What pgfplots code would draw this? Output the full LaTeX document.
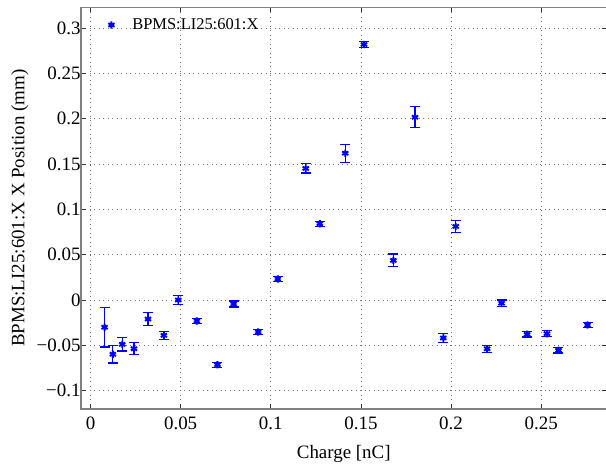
\documentclass[border=0pt]{standalone}
\usepackage{pgfplots}
\pgfplotsset{compat=1.18}
\usepackage{fontspec}
\setmainfont{Liberation Serif}
\pgfplotsset{mylegimg/.style={legend image code/.code={\path (0cm,0cm) (0.96cm,0cm); \draw[##1] plot coordinates {(0.3cm,0cm)};}}}
\begin{document}
\begin{tikzpicture}[x=1bp,y=1bp]
\begin{axis}[
  name=ax,
  scale only axis,
  width=525.5bp, height=401.5bp,
  xmin=-0.00527, xmax=0.28623,
  ymin=-0.1203, ymax=0.3228,
  xtick={0,0.05,0.1,0.15,0.2,0.25},
  xticklabels={0,0.05,0.1,0.15,0.2,0.25},
  ytick={-0.1,-0.05,0,0.05,0.1,0.15,0.2,0.25,0.3},
  yticklabels={−0.1,−0.05,0,0.05,0.1,0.15,0.2,0.25,0.3},
  tick align=inside,
  tick pos=both,
  major tick length=5bp,
  major tick style={black!80, line width=0.8bp},
  axis line style={gray, line width=1.2bp},
  grid=major,
  major grid style={black!55, line width=0.6bp, dash pattern=on 0.9bp off 3.6bp},
  tick label style={font=\fontsize{19}{22}\selectfont},
  xticklabel style={yshift=-4bp},
  yticklabel style={xshift=3bp},
  xlabel={Charge [nC]},
  ylabel={BPMS:LI25:601:X X Position (mm)},
  every axis x label/.style={at={(axis description cs:0.5,-0.112)}, anchor=center, font=\fontsize{19}{22}\selectfont},
  every axis y label/.style={at={(axis description cs:-0.1164,0.5)}, rotate=90, anchor=center, font=\fontsize{19}{22}\selectfont},
  legend style={draw=none, fill=none, inner sep=0pt, at={(axis description cs:0.041,0.9564)}, anchor=west, font=\fontsize{16.5}{19}\selectfont},
]
\addplot[only marks, color=blue, mark=asterisk, mark size=3.6bp, mark options={line width=1.9bp},
  mylegimg,
  error bars/.cd, y dir=both, y explicit,
  error bar style={line width=1.2bp, blue},
  error mark options={rotate=90, line width=1.2bp, blue, mark size=5bp}]
table[x=x, y=y, y error=e] {
x y e
0.0078 -0.0301 0.0217
0.0124 -0.0599 0.0096
0.0176 -0.0489 0.0075
0.0241 -0.0538 0.0066
0.0319 -0.0210 0.0070
0.0407 -0.0390 0.0042
0.0487 0.0000 0.0047
0.0590 -0.0232 0.0030
0.0704 -0.0714 0.0028
0.0794 -0.0044 0.0033
0.0930 -0.0353 0.0028
0.1039 0.0232 0.0028
0.1194 0.1452 0.0050
0.1272 0.0842 0.0028
0.1413 0.1620 0.0099
0.1517 0.2820 0.0035
0.1680 0.0437 0.0070
0.1800 0.2017 0.0114
0.1957 -0.0419 0.0047
0.2026 0.0812 0.0063
0.2200 -0.0538 0.0040
0.2280 -0.0036 0.0035
0.2422 -0.0379 0.0030
0.2532 -0.0372 0.0035
0.2596 -0.0555 0.0030
0.2757 -0.0276 0.0030
};
\addlegendentry{BPMS:LI25:601:X}
\end{axis}
\pgfresetboundingbox
\path ([xshift=-81bp,yshift=-57bp]ax.south west) rectangle ([xshift=-0.5bp,yshift=7.5bp]ax.north east);
\end{tikzpicture}
\end{document}
